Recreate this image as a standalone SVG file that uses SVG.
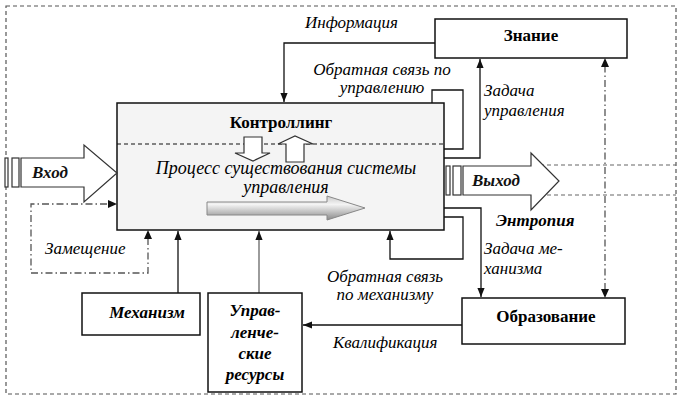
<svg xmlns="http://www.w3.org/2000/svg" width="682" height="401" viewBox="0 0 682 401">
<defs>
<marker id="ah" viewBox="0 0 10 8" refX="10" refY="4" markerWidth="9" markerHeight="8" markerUnits="userSpaceOnUse" orient="auto">
<path d="M0,0 L10,4 L0,8 z" fill="#111"/>
</marker>
<linearGradient id="ag" x1="0" y1="0" x2="0" y2="1">
<stop offset="0" stop-color="#c8c8c8"/>
<stop offset="0.35" stop-color="#f4f4f4"/>
<stop offset="1" stop-color="#8a8a8a"/>
</linearGradient>
</defs>

<rect x="6" y="6" width="670" height="388" fill="none" stroke="#555" stroke-width="1.2" stroke-dasharray="4,3"/>

<g id="connectors" fill="none" stroke="#111" stroke-width="1.3">
<path d="M435,43 H284 V102" marker-end="url(#ah)"/>
<path d="M444,149 H463 V90 H432 V143" marker-end="url(#ah)"/>
<path d="M444,158 H480 V59" marker-end="url(#ah)"/>
<path d="M605,290 V66" stroke="#555" stroke-dasharray="7,3,1.5,3"/>
<path d="M605,58 l-4,9 h8 z M605,298 l-4,-9 h8 z" fill="#111" stroke="none"/>
<path d="M444,208 H481 V297" marker-end="url(#ah)"/>
<path d="M444,217 H463 V259 H390 V231" marker-end="url(#ah)"/>
<path d="M462,325 H303" marker-end="url(#ah)"/>
<path d="M178,293 V231" marker-end="url(#ah)"/>
<path d="M259,293 V231" stroke="#666" marker-end="url(#ah)"/>
<path d="M148,238 V273 H31 V204 H109" stroke="#555" stroke-dasharray="7,3,1.5,3"/>
<path d="M148,230 l-4,9 h8 z M117,204 l-9,-4 v8 z" fill="#111" stroke="none"/>
<path d="M540,165 H676 M540,195 H676" stroke="#666" stroke-width="1.2" stroke-dasharray="4,3"/>
</g>

<g id="controlling">
<rect x="117" y="103" width="327" height="127" fill="#f4f4f4" stroke="#111" stroke-width="1.5"/>
<line x1="117" y1="144" x2="444" y2="144" stroke="#111" stroke-width="1.2" stroke-dasharray="4,3"/>
<text style="font-family:'Liberation Serif',serif !important" font-size="17" font-weight="bold" x="281" y="128" text-anchor="middle">Контроллинг</text>
<path fill="#fff" stroke="#333" stroke-width="1.2" d="M244,137 H262 V153 H270 L253,161 L235,153 H244 Z"/>
<path fill="#fff" stroke="#333" stroke-width="1.2" d="M286,162 V144 H278 L295,136 L313,144 H304 V162 Z"/>
<text style="font-family:'Liberation Serif',serif !important" font-size="18" font-style="italic" x="286" y="174" text-anchor="middle">Процесс существования системы</text>
<text style="font-family:'Liberation Serif',serif !important" font-size="18" font-style="italic" x="286" y="193" text-anchor="middle">управления</text>
<path d="M207,202 H327 V196 L365,208 L327,220 V215 H207 Z" fill="url(#ag)" stroke="#888" stroke-width="1"/>
</g>

<g id="vhod" fill="#fff" stroke="#333" stroke-width="1.2">
<rect x="5" y="158" width="3" height="29"/>
<rect x="12" y="158" width="7" height="29"/>
<path d="M21,158 H84 V145 L117,173 L84,202 V187 H21 Z"/>
<text style="font-family:'Liberation Serif',serif !important" font-size="17" font-weight="bold" font-style="italic" fill="#111" stroke="none" x="32" y="178">Вход</text>
</g>

<g id="vyhod" fill="#fff" stroke="#333" stroke-width="1.2">
<rect x="446" y="166" width="4" height="29"/>
<rect x="453" y="166" width="8" height="29"/>
<path d="M463,166 H531 V153 L559,181 L531,210 V195 H463 Z"/>
<text style="font-family:'Liberation Serif',serif !important" font-size="17" font-weight="bold" font-style="italic" fill="#111" stroke="none" x="472" y="186">Выход</text>
</g>

<g id="znanie">
<rect x="435" y="19" width="192" height="39" fill="#fff" stroke="#111" stroke-width="1.5"/>
<text style="font-family:'Liberation Serif',serif !important" font-size="17" font-weight="bold" x="531" y="41" text-anchor="middle">Знание</text>
</g>

<g id="obrazovanie">
<rect x="462" y="298" width="163" height="46" fill="#fff" stroke="#111" stroke-width="1.5"/>
<text style="font-family:'Liberation Serif',serif !important" font-size="17" font-weight="bold" x="546" y="322" text-anchor="middle">Образование</text>
</g>

<g id="mehanizm">
<rect x="82" y="293" width="118" height="42" fill="#fff" stroke="#111" stroke-width="1.5"/>
<text style="font-family:'Liberation Serif',serif !important" font-size="17" font-weight="bold" font-style="italic" x="147" y="318" text-anchor="middle">Механизм</text>
</g>

<g id="resursy">
<rect x="208" y="293" width="94" height="99" fill="#fff" stroke="#111" stroke-width="1.5"/>
<text style="font-family:'Liberation Serif',serif !important" font-size="17" font-weight="bold" font-style="italic" text-anchor="middle" x="255" y="316">Управ-</text>
<text style="font-family:'Liberation Serif',serif !important" font-size="17" font-weight="bold" font-style="italic" text-anchor="middle" x="255" y="338">ленче-</text>
<text style="font-family:'Liberation Serif',serif !important" font-size="17" font-weight="bold" font-style="italic" text-anchor="middle" x="255" y="359">ские</text>
<text style="font-family:'Liberation Serif',serif !important" font-size="17" font-weight="bold" font-style="italic" text-anchor="middle" x="255" y="380">ресурсы</text>
</g>

<g id="labels">
<text style="font-family:'Liberation Serif',serif !important" font-size="17" font-style="italic" x="305" y="28">Информация</text>
<text style="font-family:'Liberation Serif',serif !important" font-size="17" font-style="italic" x="382" y="75" text-anchor="middle">Обратная связь по</text>
<text style="font-family:'Liberation Serif',serif !important" font-size="17" font-style="italic" x="382" y="93" text-anchor="middle">управлению</text>
<text style="font-family:'Liberation Serif',serif !important" font-size="17" font-style="italic" x="484" y="96">Задача</text>
<text style="font-family:'Liberation Serif',serif !important" font-size="17" font-style="italic" x="484" y="116">управления</text>
<text style="font-family:'Liberation Serif',serif !important" font-size="17" font-style="italic" font-weight="bold" x="496" y="226">Энтропия</text>
<text style="font-family:'Liberation Serif',serif !important" font-size="17" font-style="italic" x="484" y="254">Задача ме-</text>
<text style="font-family:'Liberation Serif',serif !important" font-size="17" font-style="italic" x="484" y="274">ханизма</text>
<text style="font-family:'Liberation Serif',serif !important" font-size="17" font-style="italic" x="385" y="282" text-anchor="middle">Обратная связь</text>
<text style="font-family:'Liberation Serif',serif !important" font-size="17" font-style="italic" x="385" y="300" text-anchor="middle">по механизму</text>
<text style="font-family:'Liberation Serif',serif !important" font-size="17" font-style="italic" x="333" y="348">Квалификация</text>
<text style="font-family:'Liberation Serif',serif !important" font-size="17" font-style="italic" x="45" y="254">Замещение</text>
</g>
</svg>
